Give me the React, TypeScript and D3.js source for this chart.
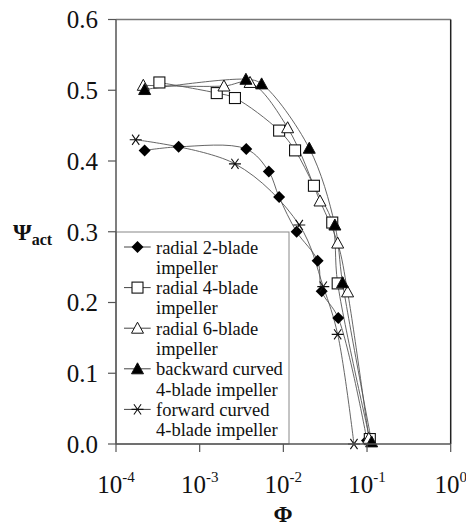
import React, { useEffect, useRef } from "react";
import * as d3 from "d3";

// flow coefficient (Phi) and actual head coefficient (Psi_act) per impeller
const radial2Phi = [2.2e-4, 5.6e-4, 3.6e-3, 6.7e-3, 8.9e-3, 0.0144, 0.0257, 0.0287, 0.0453, 0.1];
const radial2Psi = [0.415, 0.42, 0.417, 0.385, 0.349, 0.3, 0.259, 0.216, 0.178, 0.005];

const radial4Phi = [3.3e-4, 1.6e-3, 2.64e-3, 8.9e-3, 0.0138, 0.0232, 0.0384, 0.0446, 0.108];
const radial4Psi = [0.511, 0.496, 0.489, 0.443, 0.415, 0.365, 0.313, 0.227, 0.007];

const radial6Phi = [2.12e-4, 1.95e-3, 4.0e-3, 0.01125, 0.0274, 0.0446, 0.0586, 0.105];
const radial6Psi = [0.507, 0.506, 0.511, 0.447, 0.3435, 0.284, 0.215, 0.008];

const backwardPhi = [2.2e-4, 3.57e-3, 5.5e-3, 0.0204, 0.0413, 0.051, 0.1135];
const backwardPsi = [0.501, 0.5155, 0.509, 0.418, 0.3095, 0.228, 0.003];

const forwardPhi = [1.72e-4, 2.64e-3, 0.0155, 0.03, 0.0446, 0.0698];
const forwardPsi = [0.43, 0.396, 0.3095, 0.2224, 0.155, 0.0];

const xTicks = [1e-4, 1e-3, 1e-2, 1e-1, 1];
const xTickExp = ["-4", "-3", "-2", "-1", "0"];
const yTicks = [0, 0.1, 0.2, 0.3, 0.4, 0.5, 0.6];

const legendLabels = [
  ["radial 2-blade", "impeller"],
  ["radial 4-blade", "impeller"],
  ["radial 6-blade", "impeller"],
  ["backward curved", "4-blade impeller"],
  ["forward curved", "4-blade impeller"],
];

const series = [
  { phi: radial2Phi, psi: radial2Psi, marker: "diamond" },
  { phi: radial4Phi, psi: radial4Psi, marker: "square" },
  { phi: radial6Phi, psi: radial6Psi, marker: "triangleOpen" },
  { phi: backwardPhi, psi: backwardPsi, marker: "triangle" },
  { phi: forwardPhi, psi: forwardPsi, marker: "star" },
];

const FONT = "Liberation Serif";

function drawMarker(g: any, kind: string, x: number, y: number) {
  if (kind === "diamond") {
    const s = 6;
    g.append("path").attr("d", `M${x},${y - s}L${x + s},${y}L${x},${y + s}L${x - s},${y}Z`).attr("fill", "#000");
  } else if (kind === "square") {
    const s = 5.5;
    g.append("rect")
      .attr("x", x - s).attr("y", y - s).attr("width", 2 * s).attr("height", 2 * s)
      .attr("fill", "#fff").attr("stroke", "#111").attr("stroke-width", 1.1);
  } else if (kind === "triangleOpen" || kind === "triangle") {
    g.append("path")
      .attr("d", `M${x},${y - 6}L${x + 6},${y + 5}L${x - 6},${y + 5}Z`)
      .attr("fill", kind === "triangle" ? "#000" : "#fff")
      .attr("stroke", "#111").attr("stroke-width", 1);
  } else {
    const s = 6;
    g.append("path")
      .attr(
        "d",
        `M${x - s},${y}L${x + s},${y}M${x - s * 0.6},${y - s * 0.85}L${x + s * 0.6},${y + s * 0.85}M${x + s * 0.6},${y - s * 0.85}L${x - s * 0.6},${y + s * 0.85}`
      )
      .attr("stroke", "#111").attr("stroke-width", 1.1).attr("fill", "none");
  }
}

export default function App() {
  const svgRef = useRef<SVGSVGElement>(null);

  useEffect(() => {
    const W = 466, H = 527;
    const left = 116, right = 450.7, top = 19.5, bottom = 444;
    const svg = d3.select(svgRef.current).attr("width", W).attr("height", H);
    svg.selectAll("*").remove();

    const x = d3.scaleLog().domain([1e-4, 1]).range([left, right]);
    const y = d3.scaleLinear().domain([0, 0.6]).range([bottom, top]);

    const txt = (sel: any) =>
      sel.attr("font-family", FONT).style("font-family", FONT).attr("fill", "#111");

    svg.append("rect").attr("width", W).attr("height", H).attr("fill", "#fff");

    // frame
    svg.append("line").attr("x1", left).attr("x2", right).attr("y1", top).attr("y2", top)
      .attr("stroke", "#777").attr("stroke-width", 1.5);
    svg.append("line").attr("x1", right).attr("x2", right).attr("y1", top).attr("y2", bottom)
      .attr("stroke", "#222").attr("stroke-width", 1.5);

    const line = d3
      .line<[number, number]>()
      .x((d) => x(d[0]))
      .y((d) => y(d[1]))
      .curve(d3.curveCatmullRom.alpha(0.5));

    series.forEach((s) => {
      svg.append("path")
        .attr("d", line(s.phi.map((p, j) => [p, s.psi[j]] as [number, number])))
        .attr("fill", "none").attr("stroke", "#555").attr("stroke-width", 0.9);
    });
    const mk = svg.append("g");
    series.forEach((s) => s.phi.forEach((p, j) => drawMarker(mk, s.marker, x(p), y(s.psi[j]))));

    // legend
    const rowH = 20.3;
    svg.append("rect").attr("x", left).attr("y", 232).attr("width", 173).attr("height", bottom - 232)
      .attr("fill", "#fff").attr("stroke", "#888").attr("stroke-width", 1);
    legendLabels.forEach((lab, i) => {
      const b1 = 253.5 + i * 2 * rowH;
      const cy = b1 - 6.5;
      svg.append("line").attr("x1", 124).attr("x2", 150.7).attr("y1", cy).attr("y2", cy)
        .attr("stroke", "#444").attr("stroke-width", 1);
      drawMarker(svg, series[i].marker, 137.5, cy);
      txt(svg.append("text").attr("x", 156).attr("y", b1).attr("font-size", 18.5).text(lab[0]));
      txt(svg.append("text").attr("x", 156).attr("y", b1 + rowH).attr("font-size", 18.5).text(lab[1]));
    });

    // axes
    svg.append("line").attr("x1", left).attr("x2", left).attr("y1", top).attr("y2", bottom)
      .attr("stroke", "#555").attr("stroke-width", 1.5);
    svg.append("line").attr("x1", left).attr("x2", right).attr("y1", bottom).attr("y2", bottom)
      .attr("stroke", "#555").attr("stroke-width", 1.5);

    yTicks.forEach((t) => {
      svg.append("line").attr("x1", left - 8).attr("x2", left).attr("y1", y(t)).attr("y2", y(t))
        .attr("stroke", "#555").attr("stroke-width", 1.2);
      txt(svg.append("text").attr("x", 98).attr("y", y(t)).attr("dy", "0.35em")
        .attr("text-anchor", "end").attr("font-size", 25).text(t.toFixed(1)));
    });

    xTicks.forEach((t, i) => {
      svg.append("line").attr("x1", x(t)).attr("x2", x(t)).attr("y1", bottom).attr("y2", bottom + 8)
        .attr("stroke", "#555").attr("stroke-width", 1.2);
      const tx = txt(svg.append("text").attr("x", x(t)).attr("y", 493)
        .attr("text-anchor", "middle").attr("font-size", 25));
      tx.append("tspan").text("10");
      tx.append("tspan").attr("font-size", 15).attr("dy", -11).text(xTickExp[i]);
    });

    // axis titles
    txt(svg.append("text").attr("x", 283).attr("y", 522).attr("text-anchor", "middle")
      .attr("font-size", 23).attr("font-weight", "bold").text("Φ"));
    const yt = txt(svg.append("text").attr("x", 13).attr("y", 240).attr("font-size", 24).attr("font-weight", "bold"));
    yt.append("tspan").text("Ψ");
    yt.append("tspan").attr("font-size", 16).attr("dy", 4.5).text("act");
  }, []);

  return <svg ref={svgRef} style={{ position: "absolute", left: 0, top: 0 }} />;
}
